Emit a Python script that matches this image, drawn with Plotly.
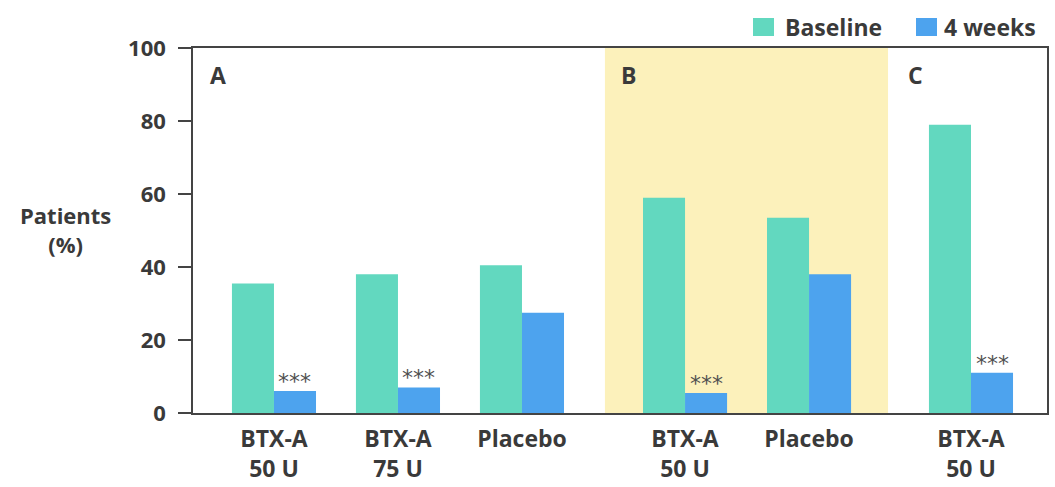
import plotly.graph_objects as go

# Data
categories = ["BTX-A<br>50 U", "BTX-A<br>75 U", "Placebo", "BTX-A<br>50 U", "Placebo", "BTX-A<br>50 U"]
baseline = [35.5, 38, 40.5, 59, 53.5, 79]
weeks4 = [6, 7, 27.5, 5.5, 38, 11]
significance = ["***", "***", "", "***", "", "***"]
panel_labels = ["A", "B", "C"]
series_names = ["Baseline", "4 weeks"]
y_ticks = [0, 20, 40, 60, 80, 100]

# Layout positions (in axis units)
positions = [0, 1, 2, 3.315, 4.315, 5.621]
bar_w = 0.339
panel_x = [-0.45, 2.86, 5.175]
shade_x = (2.669, 4.952)

W, H = 1055, 487
L, R, T, B = 193, 8, 48, 74
PW, PH = W - L - R, H - T - B


def px_x(p):
    return (p - L) / PW


def px_y(p):
    return (H - B - p) / PH


TEAL = "#62d8bf"
BLUE = "#4da3ee"
YELLOW = "#fcf1bb"
TXT = "#3a3a3a"
FONT = "Open Sans"

fig = go.Figure()
fig.add_trace(go.Bar(x=positions, y=baseline, width=bar_w, offset=-bar_w,
                     marker=dict(color=TEAL, line=dict(width=0)), name=series_names[0]))
fig.add_trace(go.Bar(x=positions, y=weeks4, width=bar_w, offset=0,
                     marker=dict(color=BLUE, line=dict(width=0)), name=series_names[1]))

fig.add_shape(type="rect", xref="x", yref="y", x0=shade_x[0], x1=shade_x[1], y0=0, y1=100,
              fillcolor=YELLOW, line=dict(width=0), layer="below")

for p, s, v in zip(positions, significance, weeks4):
    if s:
        fig.add_annotation(x=p + bar_w / 2, y=v, text=s, showarrow=False, yanchor="bottom",
                           xanchor="center", yshift=-5,
                           font=dict(family="DejaVu Sans", size=22, color="#505050"))

for px, lab in zip(panel_x, panel_labels):
    fig.add_annotation(x=px, y=92.5, text="<b>" + lab + "</b>", showarrow=False,
                       xanchor="center", yanchor="middle",
                       font=dict(family=FONT, size=23, color=TXT))

fig.add_annotation(xref="paper", yref="paper", x=px_x(65), y=px_y(230), text="<b>Patients<br>(%)</b>",
                   xanchor="center", yanchor="middle",
                   showarrow=False, font=dict(family=FONT, size=22, color=TXT), align="center")

# Legend (drawn manually to match the reference placement)
legend_items = [(753, 774, 783, series_names[0], TEAL), (916, 937, 942, series_names[1], BLUE)]
for x0, x1, tx, name, col in legend_items:
    fig.add_shape(type="rect", xref="paper", yref="paper", x0=px_x(x0), x1=px_x(x1),
                  y0=px_y(36), y1=px_y(18), fillcolor=col, line=dict(width=0))
    fig.add_annotation(xref="paper", yref="paper", x=px_x(tx), y=px_y(27), xanchor="left",
                       yanchor="middle", text="<b>" + name + "</b>", showarrow=False,
                       font=dict(family=FONT, size=23, color=TXT))

fig.update_layout(
    width=W, height=H,
    margin=dict(l=L, r=R, t=T, b=B, autoexpand=False),
    paper_bgcolor="white", plot_bgcolor="white",
    barmode="overlay",
    showlegend=False,
    font=dict(family=FONT, color=TXT),
)
fig.update_xaxes(range=[-0.653, 6.234], tickmode="array", tickvals=positions,
                 ticktext=["<b>" + c + "</b>" for c in categories],
                 tickfont=dict(family=FONT, size=23, color=TXT), ticks="", automargin=False,
                 ticklabelstandoff=5,
                 showgrid=False, zeroline=False, showline=True, linecolor="#444", linewidth=1.5,
                 mirror=True)
fig.update_yaxes(range=[0, 100], tickvals=y_ticks, ticktext=["<b>%d</b>" % t for t in y_ticks],
                 tickfont=dict(family=FONT, size=22, color=TXT), ticks="outside", ticklen=13,
                 ticklabelstandoff=8,
                 tickcolor="#444", tickwidth=1.5, showgrid=False, zeroline=False, automargin=False,
                 showline=True, linecolor="#444", linewidth=1.5, mirror=True)

fig.write_html("out.html", post_script="document.body.style.margin='0';",
               config={"displayModeBar": False})
